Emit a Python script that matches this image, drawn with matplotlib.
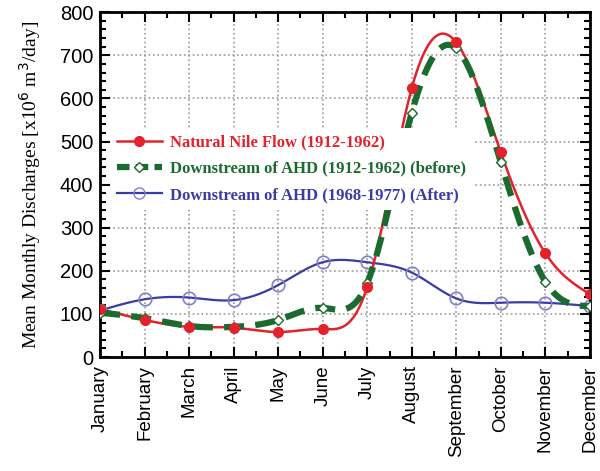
import matplotlib
matplotlib.use("Agg")
import matplotlib.pyplot as plt
import numpy as np
from matplotlib.lines import Line2D
from matplotlib.ticker import MultipleLocator

months = ["January", "February", "March", "April", "May", "June", "July",
          "August", "September", "October", "November", "December"]

natural = [111, 86, 70, 68, 58, 65, 163, 624, 730, 475, 241, 146]
before = [103, 90, 72, 70, 86, 114, 172, 567, 716, 452, 175, 118]
after = [108, 134, 138, 132, 167, 220, 220, 196, 136, 126, 126, 118]

RED = "#e3222b"
GREEN = "#1b6b2e"
BLUE = "#3b3ba6"


def smooth(y, n=400):
    # natural cubic spline through the monthly points, only for drawing the line
    y = np.asarray(y, float)
    m = len(y)
    A = np.zeros((m, m))
    b = np.zeros(m)
    A[0, 0] = A[-1, -1] = 1
    for i in range(1, m - 1):
        A[i, i - 1], A[i, i], A[i, i + 1] = 1, 4, 1
        b[i] = 6 * (y[i + 1] - 2 * y[i] + y[i - 1])
    M = np.linalg.solve(A, b)
    xs = np.linspace(0, m - 1, n)
    k = np.clip(np.floor(xs).astype(int), 0, m - 2)
    t = xs - k
    ys = ((1 - t) * y[k] + t * y[k + 1]
          + ((1 - t) ** 3 - (1 - t)) * M[k] / 6 + (t ** 3 - t) * M[k + 1] / 6)
    return xs, ys


plt.rcParams["font.family"] = "Liberation Sans"

fig = plt.figure(figsize=(6, 4.71), dpi=100)
ax = fig.add_axes([0.167, 0.242, 0.816, 0.732])

x = np.arange(len(months))

xs, ys = smooth(after)
ax.plot(xs, ys, color=BLUE, lw=1.6, zorder=2)
ax.plot(x, after, "o", ms=9, mfc="none", mec="#8080c8", mew=1.2, zorder=2)

xs, ys = smooth(natural)
ax.plot(xs, ys, color=RED, lw=1.8, zorder=3)

xs, ys = smooth(before)
ax.plot(xs, ys, color=GREEN, lw=4.5, ls=(0, (3.2, 1.8)), zorder=4)
ax.plot(x, before, "D", ms=5, mfc="white", mec=GREEN, mew=1.0, zorder=4)

ax.plot(x, natural, "o", ms=7, color=RED, zorder=5)

ax.set_xlim(0, 11)
ax.set_ylim(0, 800)
ax.set_xticks(x)
ax.set_xticklabels(months, rotation=90, fontsize=13.5)
ax.yaxis.set_major_locator(MultipleLocator(100))
ax.yaxis.set_minor_locator(MultipleLocator(20))
ax.xaxis.set_minor_locator(MultipleLocator(0.5))
ax.tick_params(axis="y", labelsize=14.5, pad=5)
ax.tick_params(axis="x", pad=6)
ax.tick_params(which="both", direction="in", top=True, right=True, width=1.5)
ax.tick_params(which="major", length=7)
ax.tick_params(which="minor", length=4)
for s in ax.spines.values():
    s.set_linewidth(2)
ax.grid(True, ls=":", color="#999999", lw=1.2)
ax.set_axisbelow(True)

ax.set_ylabel("Mean Monthly Discharges [x10$^6$ m$^3$/day]",
              family="Liberation Serif", fontsize=14, labelpad=12)

handles = [
    Line2D([], [], color=RED, lw=1.8, marker="o", ms=7),
    Line2D([], [], color=GREEN, lw=4.5, ls=(0, (2, 1)), marker="D", ms=5,
           mfc="white", mec=GREEN),
    Line2D([], [], color=BLUE, lw=1.6, marker="o", ms=8, mfc="none", mec="#8080c8"),
]
labels = ["Natural Nile Flow (1912-1962)",
          "Downstream of AHD (1912-1962) (before)",
          "Downstream of AHD (1968-1977) (After)"]
leg = ax.legend(handles, labels, loc="upper left", bbox_to_anchor=(0.02, 0.665),
                borderaxespad=0, frameon=True, framealpha=1, edgecolor="none",
                handlelength=2.7, handletextpad=0.5, labelspacing=0.62,
                prop={"family": "Liberation Serif", "weight": "bold", "size": 12})
for t, c in zip(leg.get_texts(), [RED, GREEN, BLUE]):
    t.set_color(c)

fig.savefig("out.png", dpi=100)
